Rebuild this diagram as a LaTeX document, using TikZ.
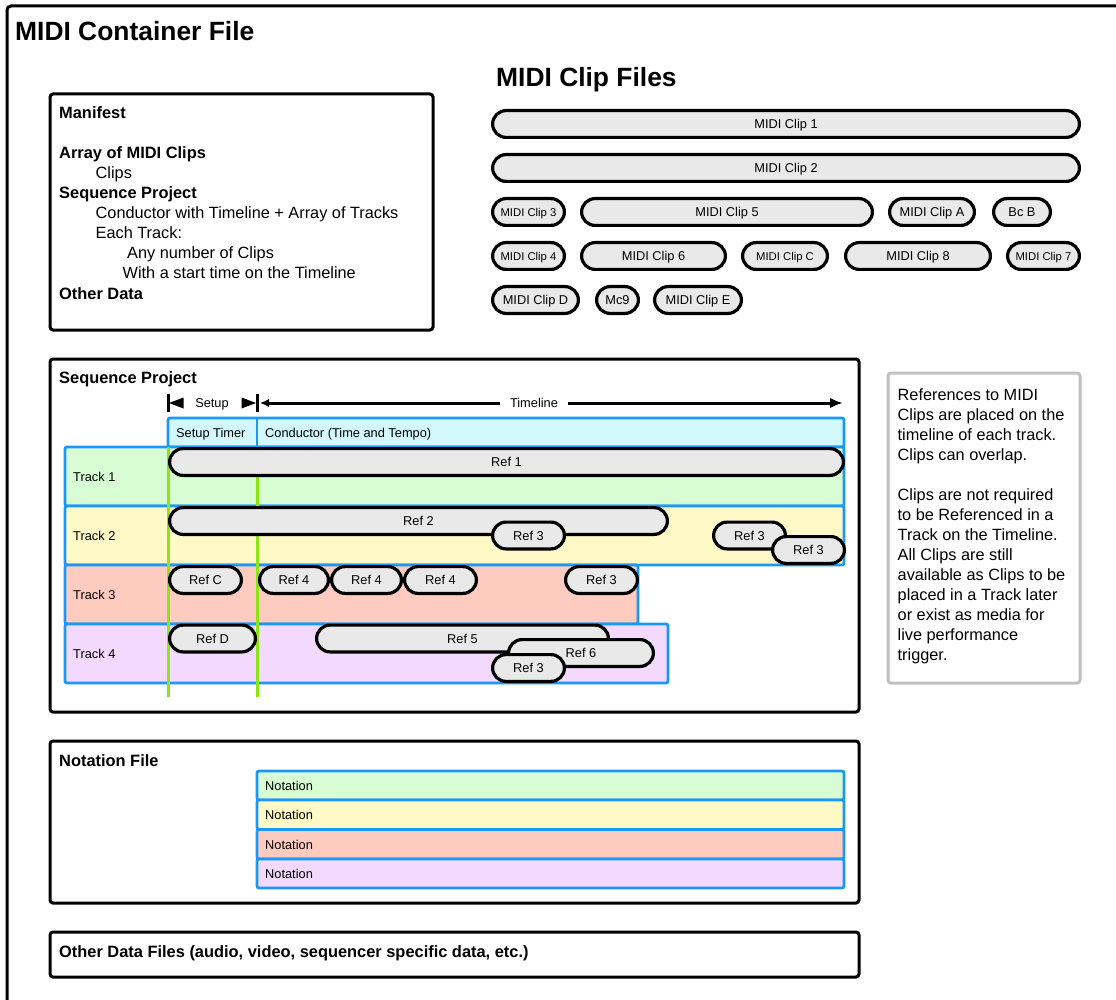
\documentclass[tikz,border=0pt]{standalone}
\usepackage{fontspec}
\setmainfont{Liberation Sans}
\usetikzlibrary{arrows.meta}
\definecolor{pillgray}{RGB}{233,233,233}
\definecolor{tone}{RGB}{216,252,211}
\definecolor{ttwo}{RGB}{254,249,198}
\definecolor{tthree}{RGB}{254,203,192}
\definecolor{tfour}{RGB}{243,217,253}
\definecolor{condcyan}{RGB}{210,248,252}
\definecolor{trkblue}{RGB}{25,152,248}
\definecolor{limegreen}{RGB}{140,230,20}
\definecolor{notegray}{RGB}{192,192,192}
\newcommand\fsz[1]{\fontsize{#1}{#1}\selectfont}
\newcommand\mkpill[6][]{\node[pill,#1,minimum width={#4-#3-3.2}] (#2) at ({(#3+#4)/2},#5) {#6};}
\begin{document}
\begin{tikzpicture}[x=1pt,y=-1pt,
  pill/.style={draw=black, line width=3.2pt, fill=pillgray, rounded corners=13.4pt,
    minimum height=26.8pt, inner sep=0pt, font=\fsz{12.8}, text height=9.2pt, text depth=0pt},
  small/.style={font=\fsz{11.3}, text height=8.1pt},
  frame/.style={draw=black, line width=3pt, rounded corners=3pt},
  trk/.style={draw=trkblue, line width=2.8pt, rounded corners=2pt},
  lbl/.style={anchor=base west, inner sep=0pt},
  hd/.style={lbl, font=\bfseries\fsz{16.4}},
  tx/.style={lbl, font=\fsz{16.3}},
  big/.style={lbl, font=\bfseries\fsz{26.4}},
  capc/.style={inner sep=0pt, font=\fsz{12.8}, text height=9.2pt, text depth=0pt},
]
\useasboundingbox (0,0) rectangle (1116,1000);
\clip (0,0) rectangle (1116,1000);

% container
\draw[line width=3pt, rounded corners=4pt] (7,1010) -- (7,6) -- (1125,6);
\node[big] (title) at (15,40.5) {MIDI Container File};

% manifest
\draw[frame] (50,94) rectangle (433,330);
\node[hd] (m1) at (59,119) {Manifest};
\node[hd] (m2) at (59,159) {Array of MIDI Clips};
\node[tx] (m3) at (95.5,179) {Clips};
\node[hd] (m4) at (59,199) {Sequence Project};
\node[tx] (m5) at (95.5,219) {Conductor with Timeline + Array of Tracks};
\node[tx] (m6) at (95.5,239) {Each Track:};
\node[tx] (m7) at (127,259) {Any number of Clips};
\node[tx] (m8) at (122.5,279) {With a start time on the Timeline};
\node[hd] (m9) at (59,299) {Other Data};

% clip files
\node[big] (cftitle) at (496,87) {MIDI Clip Files};
\mkpill{c1}{491}{1081}{124}{MIDI Clip 1}
\mkpill{c2}{491}{1081}{168}{MIDI Clip 2}
\mkpill[small]{c3}{491}{566}{212}{MIDI Clip 3}
\mkpill{c5}{580}{874}{212}{MIDI Clip 5}
\mkpill{cA}{888}{976}{212}{MIDI Clip A}
\mkpill{cB}{992}{1052}{212}{Bc B}
\mkpill[small]{c4}{491}{566}{256}{MIDI Clip 4}
\mkpill{c6}{580}{727}{256}{MIDI Clip 6}
\mkpill[small]{cC}{741}{829}{256}{MIDI Clip C}
\mkpill{c8}{844}{992}{256}{MIDI Clip 8}
\mkpill[small]{c7}{1006}{1081}{256}{MIDI Clip 7}
\mkpill{cD}{491}{580}{300}{MIDI Clip D}
\mkpill{c9}{595}{640}{300}{Mc9}
\mkpill{cE}{653}{743}{300}{MIDI Clip E}

% sequence project
\draw[frame] (50,359) rectangle (859,712);
\node[hd] (sptitle) at (59,383.5) {Sequence Project};

% setup marks
\draw[line width=3pt] (168,394) -- (168,412);
\fill (169,403) -- (183.5,397.5) -- (183.5,408.5) -- cycle;
\node[capc] (setup) at (212,403) {Setup};
\fill (256,403) -- (241.5,397.5) -- (241.5,408.5) -- cycle;
\draw[line width=3pt] (257,394) -- (257,412);
\coordinate (tlA) at (260,403);
\coordinate (tlB) at (843,403);
\draw[line width=3pt, {Latex[length=9pt,width=8.5pt]}-{Latex[length=13pt,width=10.5pt]}] (tlA) -- (tlB);
\node[capc, fill=white, inner xsep=10pt, inner ysep=3pt] (tl) at (534,403) {Timeline};

% conductor
\draw[trk, fill=condcyan] (168,418) rectangle (844,447);
\draw[trkblue, line width=2.8pt] (257,418) -- (257,447);
\node[capc, anchor=west] (st) at (176,432.5) {Setup Timer};
\node[capc, anchor=west] (cond) at (265,432.5) {Conductor (Time and Tempo)};

% tracks
\draw[trk, fill=tone] (65,447) rectangle (844,506);
\draw[trk, fill=ttwo] (65,506) rectangle (844,565);
\draw[trk, fill=tthree] (65,565) rectangle (638,624);
\draw[trk, fill=tfour] (65,624) rectangle (668,683);
\node[capc, anchor=west] (tk1) at (73,476.5) {Track 1};
\node[capc, anchor=west] (tk2) at (73,535.5) {Track 2};
\node[capc, anchor=west] (tk3) at (73,594.5) {Track 3};
\node[capc, anchor=west] (tk4) at (73,653.5) {Track 4};

% green lines
\coordinate (g1a) at (168,447); \coordinate (g1b) at (168,697);
\coordinate (g2a) at (257,447); \coordinate (g2b) at (257,697);
\draw[limegreen, line width=3pt] (g1a) -- (g1b);
\draw[limegreen, line width=3pt] (g2a) -- (g2b);

% refs
\mkpill{r1}{168}{845}{462}{Ref 1}
\mkpill{r2}{168}{669}{521}{Ref 2}
\mkpill{r3a}{491}{566}{535.5}{Ref 3}
\mkpill{r3b}{712}{787}{535.5}{Ref 3}
\mkpill{r3c}{771}{846}{550}{Ref 3}
\mkpill{rC}{168}{243}{580}{Ref C}
\mkpill{r4a}{258}{330}{580}{Ref 4}
\mkpill{r4b}{330}{403}{580}{Ref 4}
\mkpill{r4c}{403}{478}{580}{Ref 4}
\mkpill{r3d}{564}{639}{580}{Ref 3}
\mkpill{rD}{168}{257}{638.5}{Ref D}
\mkpill{r5}{315}{610}{638.5}{Ref 5}
\mkpill{r6}{507}{655}{653}{Ref 6}
\mkpill{r3e}{491}{566}{668}{Ref 3}

% note box
\draw[notegray, line width=3pt, rounded corners=3pt] (888,373) rectangle (1080,683);
\foreach \t [count=\i] in {References to MIDI, Clips are placed on the, timeline of each track., Clips can overlap.}
  \node[tx] (na\i) at (897.5,380+20*\i) {\t};
\foreach \t [count=\i] in {Clips are not required, to be Referenced in a, Track on the Timeline., All Clips are still, available as Clips to be, placed in a Track later, or exist as media for, live performance, trigger.}
  \node[tx] (nb\i) at (897.5,480+20*\i) {\t};

% notation file
\draw[frame] (50,741) rectangle (859,903);
\node[hd] (nftitle) at (59,766) {Notation File};
\draw[trk, fill=tone] (257,771) rectangle (844,800);
\draw[trk, fill=ttwo] (257,800) rectangle (844,829.5);
\draw[trk, fill=tthree] (257,829.5) rectangle (844,859);
\draw[trk, fill=tfour] (257,859) rectangle (844,888);
\node[capc, anchor=west] (n1) at (265,785.5) {Notation};
\node[capc, anchor=west] (n2) at (265,815) {Notation};
\node[capc, anchor=west] (n3) at (265,844.5) {Notation};
\node[capc, anchor=west] (n4) at (265,874) {Notation};

% other data files
\draw[frame] (50,932) rectangle (859,977);
\node[hd] (odf) at (59,957) {Other Data Files (audio, video, sequencer specific data, etc.)};
\end{tikzpicture}
\end{document}
